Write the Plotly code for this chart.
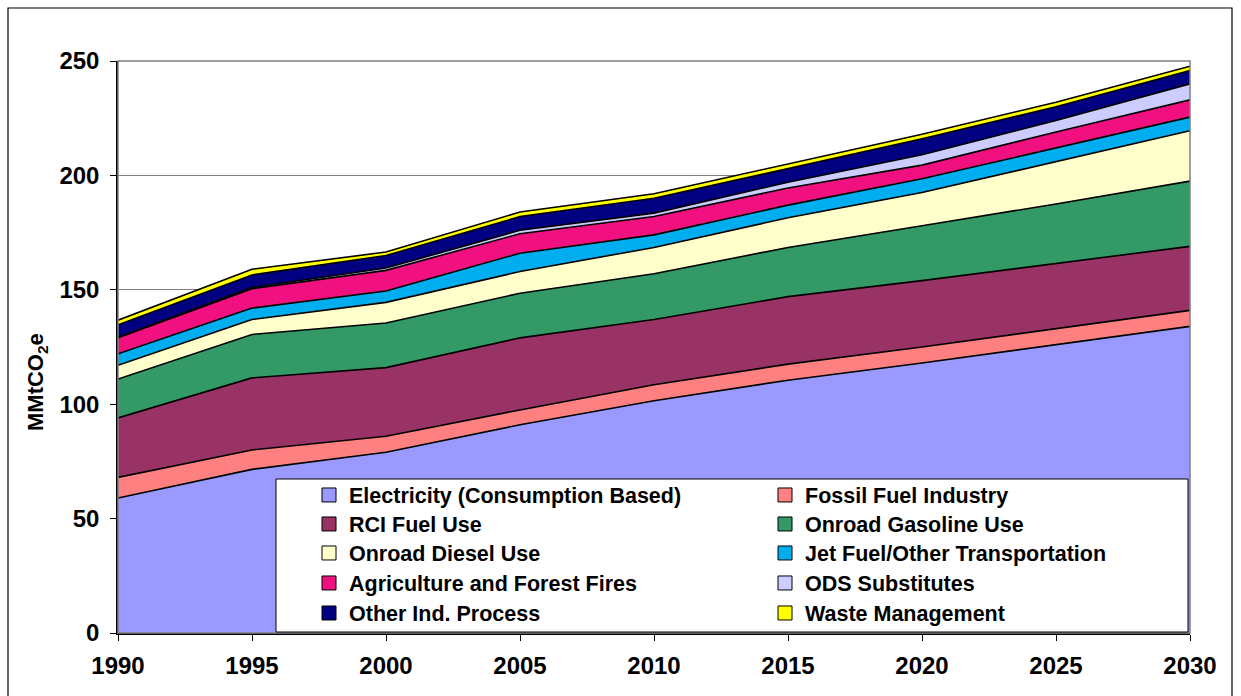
import plotly.graph_objects as go

years = [1990, 1995, 2000, 2005, 2010, 2015, 2020, 2025, 2030]

# emissions by sector (MMtCO2e), stacked in this order
electricity = [59, 71.5, 79, 91, 101.5, 110.5, 118, 126, 134]
fossil_fuel = [9, 8.5, 7, 6.5, 7, 7, 7, 7, 7]
rci_fuel = [26, 31.5, 30, 31.5, 28.5, 29.5, 29, 28.5, 28]
onroad_gas = [17, 19, 19.5, 19.5, 20, 21.5, 24, 26, 28.5]
onroad_diesel = [6, 6.5, 9, 9.5, 11.5, 13, 14.5, 18.5, 22]
jet_fuel = [5, 5, 5, 8, 5.5, 5.5, 6, 6, 6]
agri_fires = [7, 8.5, 9, 8.5, 8, 7.5, 6, 7, 7.5]
ods_subs = [0.2, 0.5, 1, 1.5, 1.5, 2.5, 4.5, 5, 7]
other_ind = [5.5, 5.5, 5.5, 6, 6.5, 6, 7, 6, 5.8]
waste = [2, 2.5, 1.5, 2, 2, 2, 2, 2, 1.9]

series = [
    ("Electricity (Consumption Based)", electricity, "#9999FF"),
    ("Fossil Fuel Industry", fossil_fuel, "#FF8080"),
    ("RCI Fuel Use", rci_fuel, "#993366"),
    ("Onroad Gasoline Use", onroad_gas, "#339966"),
    ("Onroad Diesel Use", onroad_diesel, "#FFFFCC"),
    ("Jet Fuel/Other Transportation", jet_fuel, "#00AEEF"),
    ("Agriculture and Forest Fires", agri_fires, "#F0107F"),
    ("ODS Substitutes", ods_subs, "#CCCCFF"),
    ("Other Ind. Process", other_ind, "#000080"),
    ("Waste Management", waste, "#FFFF00"),
]

FONT = "Liberation Sans, Arial, sans-serif"

def px_x(p):
    return (p - 118) / 1072.0

def px_y(p):
    return (633 - p) / 572.0

fig = go.Figure()
for name, vals, col in series:
    fig.add_trace(go.Scatter(x=years, y=vals, name=name, stackgroup="one",
                             mode="lines", line=dict(color="black", width=1.6),
                             fillcolor=col, showlegend=False))

# legend: 2 columns x 5 rows, one small legend per entry so rows sit exactly
row_y = [495, 524, 553, 583, 613]
col_x = [309, 765]
legends = {}
for i, (name, vals, col) in enumerate(series):
    key = "legend" if i == 0 else "legend%d" % (i + 1)
    fig.add_trace(go.Scatter(x=[None], y=[None], name=name, mode="markers",
                             marker=dict(symbol="square", size=14, color=col,
                                         line=dict(color="black", width=1)),
                             legend=key, showlegend=True))
    legends[key] = dict(x=px_x(col_x[i % 2]), y=px_y(row_y[i // 2]),
                        xanchor="left", yanchor="middle",
                        font=dict(family=FONT, size=21.5, color="black", weight="bold"),
                        bgcolor="rgba(0,0,0,0)", borderwidth=0, itemclick=False)

fig.update_layout(
    width=1241, height=696,
    margin=dict(l=118, r=51, t=61, b=63),
    paper_bgcolor="white", plot_bgcolor="white",
    font=dict(family=FONT, color="black"),
    xaxis=dict(range=[1990, 2030], tickvals=years, ticks="outside", ticklen=6,
               tickcolor="black", showline=True, linecolor="black", linewidth=1.5,
               showgrid=False, zeroline=False,
               tickfont=dict(family=FONT, size=24, weight="bold"),
               ticklabelstandoff=4),
    yaxis=dict(range=[0, 250], tickvals=[0, 50, 100, 150, 200, 250], ticks="outside",
               ticklen=6, tickcolor="black", showline=True, linecolor="black",
               linewidth=1.5, showgrid=True, gridcolor="#808080", gridwidth=1,
               zeroline=False, tickfont=dict(family=FONT, size=24, weight="bold"),
               ticklabelstandoff=6),
    annotations=[dict(text="MMtCO<sub>2</sub>e", textangle=-90, xref="paper", yref="paper",
                      x=px_x(37), y=px_y(382), xanchor="center", yanchor="middle",
                      showarrow=False, font=dict(family=FONT, size=22, weight="bold"))],
    shapes=[
        # plot area frame (top / right)
        dict(type="rect", xref="paper", yref="paper", x0=0, x1=1, y0=0, y1=1,
             line=dict(color="#808080", width=1.5), layer="above"),
        # legend box
        dict(type="rect", xref="paper", yref="paper", x0=px_x(276), x1=px_x(1188),
             y0=px_y(632), y1=px_y(479), fillcolor="white",
             line=dict(color="black", width=1), layer="above"),
        # outer chart border
        dict(type="rect", xref="paper", yref="paper", x0=px_x(8), x1=px_x(1232),
             y0=px_y(705), y1=px_y(8), line=dict(color="black", width=1.2)),
    ],
    **legends,
)

fig.write_html("out.html", config={"displayModeBar": False},
               post_script="document.body.style.margin='0px';")
